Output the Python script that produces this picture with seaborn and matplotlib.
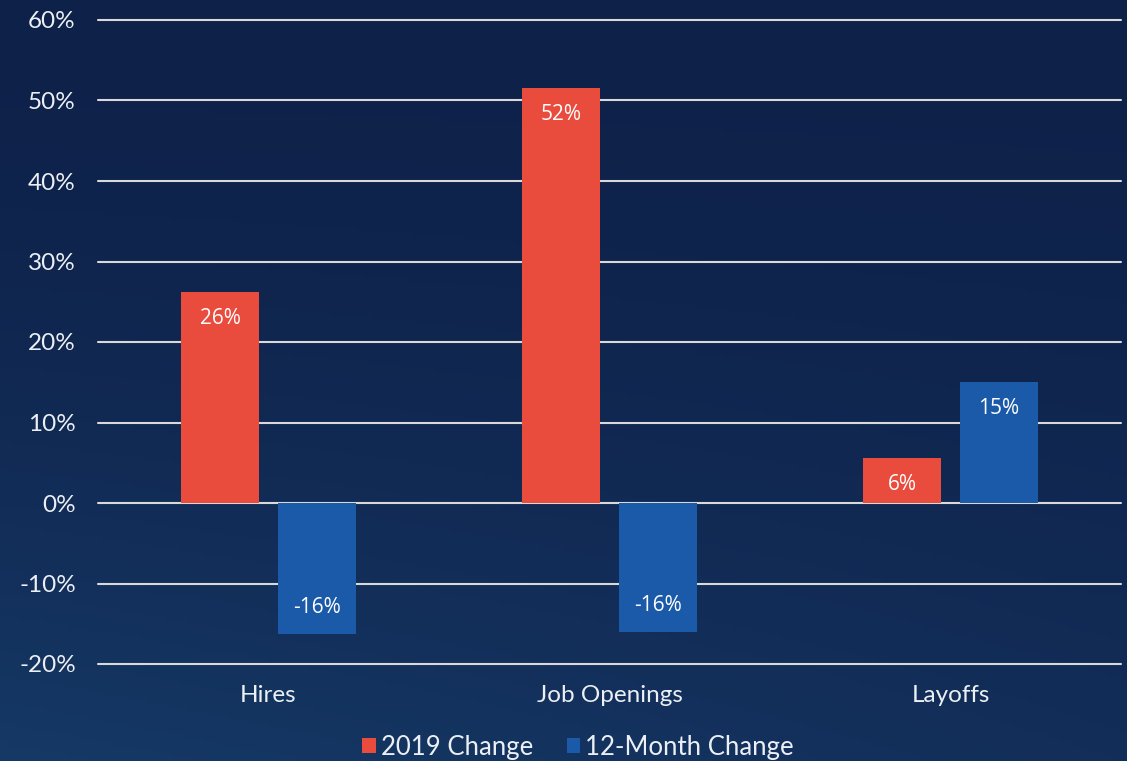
import numpy as np
import pandas as pd
import matplotlib
matplotlib.use("Agg")
import matplotlib.pyplot as plt
from matplotlib.colors import to_rgb
import seaborn as sns

# Chart data
categories = ["Hires", "Job Openings", "Layoffs"]
series_names = ["2019 Change", "12-Month Change"]
change_2019 = [26.2, 51.6, 5.6]
change_12_month = [-16.3, -16.0, 15.0]
y_ticks = [-20, -10, 0, 10, 20, 30, 40, 50, 60]

RED = "#E94B3C"
BLUE = "#1A5AA8"
TEXT = "#ECEFF4"
GRID = "#D9D9D9"

sns.set_theme(style="white")
plt.rcParams["font.family"] = ["Lato", "DejaVu Sans"]

df = pd.DataFrame({
    "Category": categories * 2,
    "Series": [series_names[0]] * 3 + [series_names[1]] * 3,
    "Change": change_2019 + change_12_month,
})

W, H = 1127, 761
fig = plt.figure(figsize=(W / 100, H / 100), dpi=100)

# Navy gradient backdrop, lighter toward the lower left
bg = fig.add_axes([0, 0, 1, 1], zorder=-10)
top = np.array(to_rgb("#0E2149"))
bottom = np.array(to_rgb("#173D6B"))
yy, xx = np.mgrid[0:1:200j, 0:1:300j]
f = np.clip(0.85 * yy ** 1.6 * (1 - 0.45 * xx), 0, 1)[..., None]
grad = top * (1 - f) + bottom * f
bg.imshow(grad, aspect="auto", extent=[0, 1, 1, 0])
bg.set_axis_off()

ax = fig.add_axes([98 / W, 1 - 664 / H, (1121 - 98) / W, (664 - 20) / H])
ax.set_facecolor("none")

sns.barplot(
    data=df, x="Category", y="Change", hue="Series",
    order=categories, hue_order=series_names,
    palette=[RED, BLUE], saturation=1, errorbar=None,
    width=0.569, gap=0.206, linewidth=0, zorder=3, ax=ax,
)

ax.set_xlim(-0.5, 2.5)
ax.set_ylim(-20, 60)
ax.set_yticks(y_ticks)
ax.set_yticklabels([f"{t}%" for t in y_ticks])
ax.yaxis.grid(True, color=GRID, linewidth=1.5, zorder=1)
ax.xaxis.grid(False)
ax.set_axisbelow(True)
for gl in ax.get_ygridlines():
    gl.set_clip_on(False)
for s in ax.spines.values():
    s.set_visible(False)
ax.set_xlabel("")
ax.set_ylabel("")
ax.tick_params(axis="y", length=0, pad=16, labelsize=17.5, labelcolor=TEXT)
ax.tick_params(axis="x", length=0, pad=15, labelsize=17.5, labelcolor=TEXT)

# Value labels inside the bar ends
for container in ax.containers:
    for bar in container:
        h = bar.get_height()
        y = bar.get_y() + h
        ax.annotate(
            f"{h:.0f}%",
            xy=(bar.get_x() + bar.get_width() / 2, y),
            xytext=(0, -19 if h > 0 else 19), textcoords="offset points",
            ha="center", va="center", color="white", fontsize=15,
            family=["Open Sans", "DejaVu Sans"], zorder=5,
        )

handles, labels = ax.get_legend_handles_labels()
ax.get_legend().remove()
leg = fig.legend(
    handles, labels, loc="center", bbox_to_anchor=(578 / W, 0.018),
    ncol=2, frameon=False, fontsize=18.5, labelcolor=TEXT,
    handlelength=0.52, handleheight=0.52, handletextpad=0.2,
    columnspacing=1.3, borderaxespad=0,
)

fig.savefig("out.png", dpi=100)
